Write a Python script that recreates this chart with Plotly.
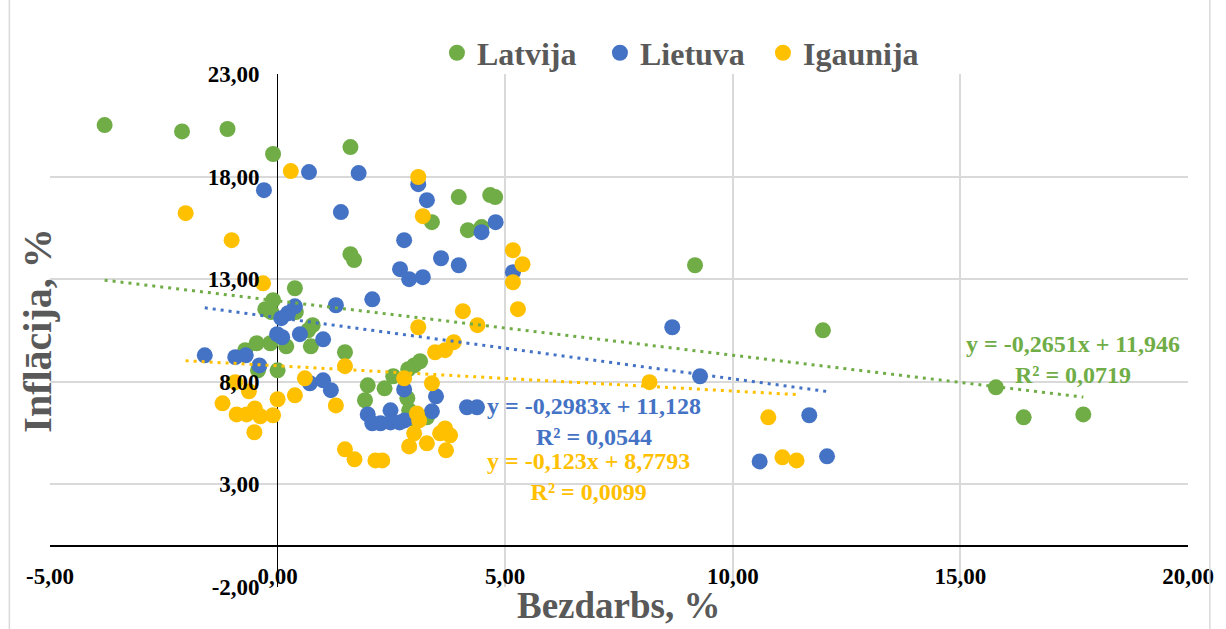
import plotly.graph_objects as go

# Bezdarbs (%) un inflācija (%) – Baltijas valstis
latvija_x = [-3.80, -2.10, -1.10, -0.10, 1.60, 3.98, 4.67, 4.78, 3.39, 4.18, 4.48,
             1.60, 1.68, 0.38, 9.17, 11.98, 15.78, 16.39, 17.70, -0.10, -0.27,
             -0.14, 0.40, 0.77, 0.67, 0.73, 0.19, -0.16, -0.46, -0.71, -0.43,
             0.00, 1.48, 1.98, 1.92, 2.35, 2.54, 2.87, 3.00, 3.13, 2.85, 2.89,
             2.92, 3.28]
latvija_y = [20.51, 20.20, 20.32, 19.10, 19.44, 17.00, 17.10, 17.00, 15.78, 15.39, 15.54,
             14.22, 13.93, 12.56, 13.68, 10.51, 7.73, 6.27, 6.41, 11.98, 11.54,
             11.40, 11.40, 10.76, 10.51, 9.73, 9.73, 9.88, 9.88, 9.54, 8.56,
             8.56, 9.44, 7.83, 7.10, 7.68, 8.27, 8.61, 8.80, 9.00, 7.20, 6.61,
             6.22, 6.27]

lietuva_x = [-0.30, 0.69, 1.78, 1.39, 3.09, 3.28, 4.79, 4.48, 2.78, 3.59, 3.98,
             2.69, 2.89, 3.19, 5.17, 2.08, 1.28, 0.38, 0.23, 0.08, -0.01,
             0.10, 0.49, 1.00, -1.60, -0.93, -0.70, -0.40, 0.71, 1.00, 1.17,
             2.78, 3.48, 3.39, 1.98, 2.08, 2.26, 2.48, 2.48, 2.68, 2.79,
             4.16, 4.38, 8.67, 9.28, 11.68, 10.59, 12.07]
lietuva_y = [17.34, 18.22, 18.17, 16.27, 17.63, 16.85, 15.78, 15.29, 14.90, 14.02, 13.68,
             13.49, 13.00, 13.10, 13.34, 12.02, 11.73, 11.68, 11.34, 11.10, 10.32,
             10.17, 10.32, 10.07, 9.29, 9.20, 9.29, 8.80, 7.93, 8.07, 7.59,
             7.63, 7.29, 6.56, 6.41, 5.98, 5.98, 6.61, 6.02, 6.02, 6.12,
             6.76, 6.76, 10.66, 8.27, 6.37, 4.12, 4.37]

igaunija_x = [-2.02, 0.29, 3.09, 3.19, -1.01, -0.32, 5.17, 5.38, 5.17, 5.28, 4.07,
              4.39, 3.09, 3.46, 3.68, 3.87, 1.48, 0.60, -0.93, -0.63, -1.21,
              0.00, 0.38, -0.90, -0.68, -0.50, -0.38, -0.10, -0.51, 1.28, 2.78,
              3.39, 3.06, 3.11, 3.00, 2.89, 3.28, 3.57, 3.68, 3.79, 3.70,
              1.48, 1.69, 2.15, 2.30, 8.17, 10.78, 11.09, 11.40]
igaunija_y = [16.22, 18.27, 17.98, 16.07, 14.90, 12.80, 14.41, 13.73, 12.85, 11.54, 11.44,
              10.76, 10.66, 9.44, 9.54, 9.93, 8.76, 8.17, 7.98, 7.54, 6.95,
              7.15, 7.34, 6.41, 6.41, 6.70, 6.32, 6.37, 5.54, 6.85, 8.17,
              7.93, 6.46, 6.12, 5.49, 4.85, 5.00, 5.49, 5.73, 5.39, 4.66,
              4.71, 4.22, 4.17, 4.17, 7.98, 6.27, 4.32, 4.17]

# Lineārās tendences koeficienti (slīpums, brīvais loceklis, R²)
latvija_fit = (-0.2651, 11.946, 0.0719)
lietuva_fit = (-0.2983, 11.128, 0.0544)
igaunija_fit = (-0.123, 8.7793, 0.0099)

x_ticks = [-5, 0, 5, 10, 15, 20]
x_tick_labels = ["-5,00", "0,00", "5,00", "10,00", "15,00", "20,00"]
y_ticks = [-2, 3, 8, 13, 18, 23]
y_tick_labels = ["-2,00", "3,00", "8,00", "13,00", "18,00", "23,00"]

GREEN = "#70AD47"
BLUE = "#4472C4"
GOLD = "#FFC000"
SERIF = "Liberation Serif"

series = [
    ("Latvija", latvija_x, latvija_y, latvija_fit, GREEN),
    ("Lietuva", lietuva_x, lietuva_y, lietuva_fit, BLUE),
    ("Igaunija", igaunija_x, igaunija_y, igaunija_fit, GOLD),
]

fig = go.Figure()

for name, xs, ys, fit, color in series:
    fig.add_trace(go.Scatter(
        x=xs, y=ys, mode="markers", name=name,
        marker=dict(size=16, color=color, line=dict(width=0)),
    ))

for name, xs, ys, fit, color in series:
    slope, intercept, _ = fit
    x0, x1 = min(xs), max(xs)
    fig.add_trace(go.Scatter(
        x=[x0, x1], y=[slope * x0 + intercept, slope * x1 + intercept],
        mode="lines", showlegend=False, hoverinfo="skip",
        line=dict(color=color, width=3, dash="3px,5px"),
    ))


def fmt(v, digits):
    return f"{v:.{digits}f}".replace(".", ",")


def eq_text(fit, sd, id_):
    slope, intercept, r2 = fit
    return (f"y = {fmt(slope, sd)}x + {fmt(intercept, id_)}<br>"
            f"R² = {fmt(r2, 4)}")


labels = [
    (eq_text(latvija_fit, 4, 3), 17.47, 9.11, GREEN),
    (eq_text(lietuva_fit, 4, 3), 6.95, 6.07, BLUE),
    (eq_text(igaunija_fit, 3, 4), 6.84, 3.38, GOLD),
]
for text, ax, ay, color in labels:
    fig.add_annotation(
        x=ax, y=ay, xref="x", yref="y", text=text, showarrow=False,
        align="center", xanchor="center", yanchor="middle",
        font=dict(family=SERIF, size=24, color=color, weight="bold"),
    )

# Asu nosaukumi
fig.add_annotation(
    x=0.5, y=-0.037, xref="paper", yref="paper", text="Bezdarbs, %",
    showarrow=False, xanchor="center", yanchor="middle",
    font=dict(family=SERIF, size=37, color="#595959", weight="bold"),
)
fig.add_annotation(
    x=-0.0113, y=0.5, xref="paper", yref="paper", text="Inflācija, %",
    showarrow=False, textangle=-90, xanchor="center", yanchor="middle",
    font=dict(family=SERIF, size=40, color="#595959", weight="bold"),
)

# Diagrammas apmale
for xp in (-0.0357, 1.0192):
    fig.add_shape(type="line", xref="paper", yref="paper",
                  x0=xp, x1=xp, y0=-0.1, y1=1.2,
                  line=dict(color="#d9d9d9", width=1.5))

fig.update_layout(
    width=1226, height=629,
    margin=dict(l=50, r=29, t=74, b=42),
    paper_bgcolor="white", plot_bgcolor="white",
    showlegend=True,
    legend=dict(
        orientation="h", x=(440 - 50) / 1147, xanchor="left",
        y=1.041, yanchor="middle",
        entrywidth=118, entrywidthmode="pixels",
        font=dict(family=SERIF, size=32, color="#595959", weight="bold"),
        bgcolor="rgba(0,0,0,0)",
    ),
    xaxis=dict(
        range=[-5, 20], tickvals=x_ticks, ticktext=x_tick_labels,
        showgrid=True, gridcolor="#d9d9d9", gridwidth=1.5,
        zeroline=True, zerolinecolor="black", zerolinewidth=1,
        showline=False, anchor="free", position=2 / 25,
        ticks="", ticklabelstandoff=14,
        tickfont=dict(family=SERIF, size=23, color="black", weight="bold"),
    ),
    yaxis=dict(
        range=[-2, 23], tickvals=y_ticks, ticktext=y_tick_labels,
        showgrid=True, gridcolor="#d9d9d9", gridwidth=1.5,
        zeroline=True, zerolinecolor="black", zerolinewidth=2,
        showline=False, anchor="free", position=5 / 25,
        ticks="", ticklabelstandoff=18,
        tickfont=dict(family=SERIF, size=23, color="black", weight="bold"),
    ),
)

fig.write_html("out.html")
